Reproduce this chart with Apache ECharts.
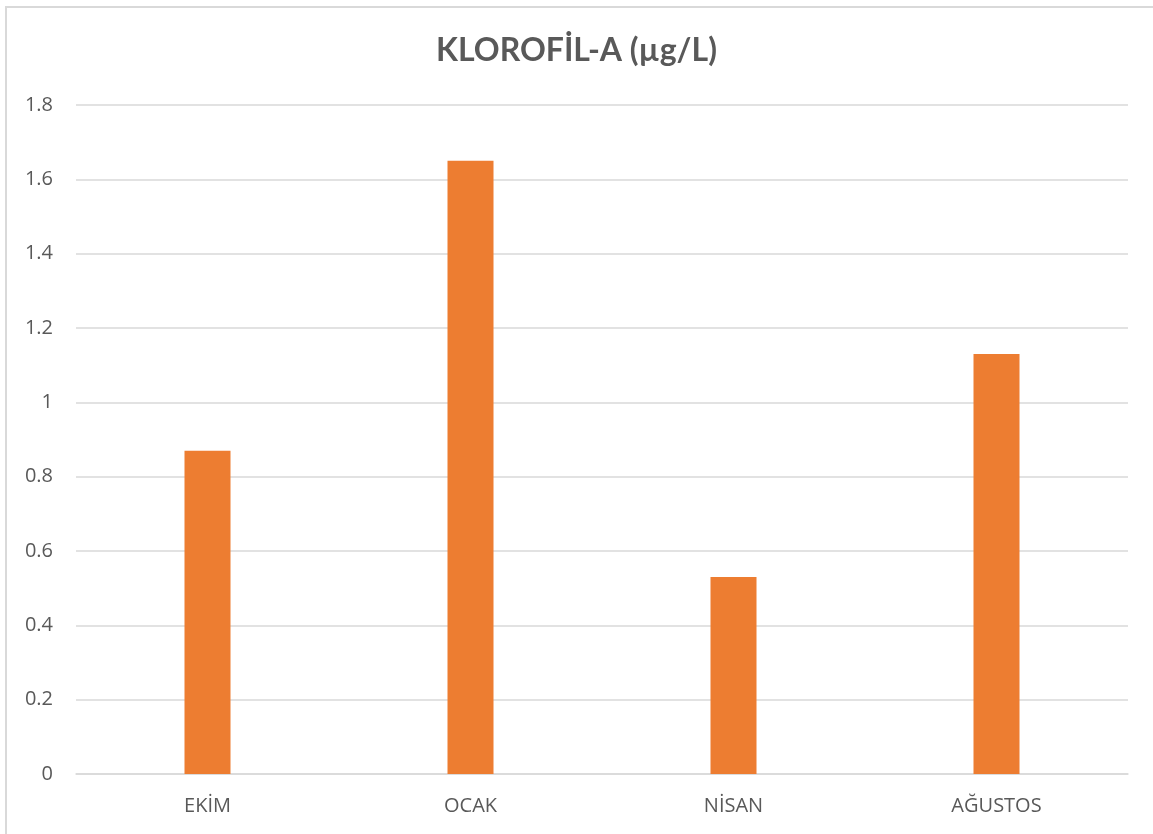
<!DOCTYPE html>
<html>
<head>
<meta charset="utf-8">
<script src="https://cdn.jsdelivr.net/npm/echarts@6/dist/echarts.min.js"></script>
<style>
  html, body { margin: 0; padding: 0; background: #fff; }
  #frame { position: absolute; left: 5px; top: 6px; width: 1160px; height: 840px;
           border: 2px solid #d9d9d9; box-sizing: border-box; }
  #chart { position: absolute; left: 0; top: 0; width: 1153px; height: 834px; }
</style>
</head>
<body>
<div id="frame"></div>
<div id="chart"></div>
<script>
// Monthly chlorophyll-a readings
const months = ['EKİM', 'OCAK', 'NİSAN', 'AĞUSTOS'];
const chlorophyll = [0.87, 1.65, 0.53, 1.13];
const yTicks = { min: 0, max: 1.8, step: 0.2 };

const chart = echarts.init(document.getElementById('chart'), null, { renderer: 'canvas' });
chart.setOption({
  animation: false,
  title: {
    text: 'KLOROFİL-A (µg/L)',
    left: 'center',
    top: 30,
    textStyle: { fontFamily: 'Lato', fontWeight: 'bold', fontSize: 32, color: '#595959' }
  },
  grid: { left: 76, right: 25, top: 105, bottom: 60, containLabel: false },
  xAxis: {
    type: 'category',
    data: months,
    axisLine: { show: true, lineStyle: { color: '#d9d9d9', width: 1.5 } },
    axisTick: { show: false },
    axisLabel: { color: '#595959', fontFamily: 'Open Sans', fontSize: 20, margin: 22 }
  },
  yAxis: {
    type: 'value',
    min: yTicks.min,
    max: yTicks.max,
    interval: yTicks.step,
    axisLine: { show: false },
    axisTick: { show: false },
    splitLine: { lineStyle: { color: '#d9d9d9', width: 1.5 } },
    axisLabel: {
      color: '#595959', fontFamily: 'Open Sans', fontSize: 20, margin: 23,
      formatter: v => String(Math.round(v * 10) / 10)
    }
  },
  series: [{
    type: 'bar',
    data: chlorophyll,
    barWidth: 46,
    itemStyle: { color: '#ED7D31' }
  }]
});
</script>
</body>
</html>
